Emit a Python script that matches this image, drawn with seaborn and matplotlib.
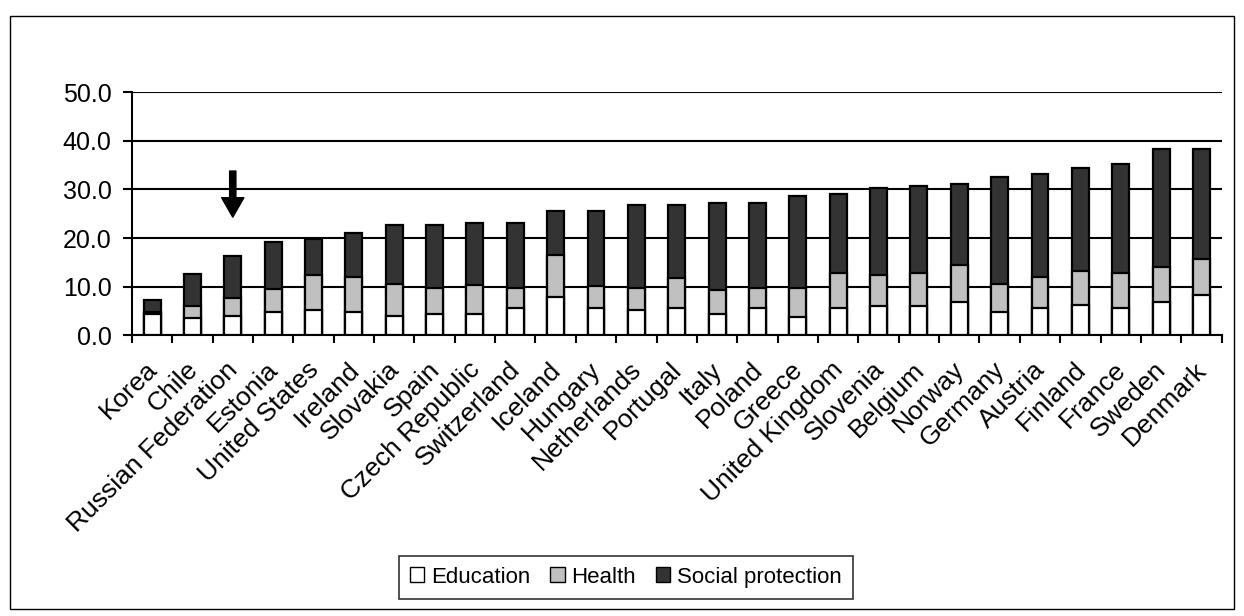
import matplotlib
matplotlib.use("Agg")
import matplotlib.pyplot as plt
import matplotlib.transforms as mtransforms
from matplotlib.patches import Rectangle, Patch
import seaborn as sns
import numpy as np
import pandas as pd

countries = ["Korea", "Chile", "Russian Federation", "Estonia", "United States",
             "Ireland", "Slovakia", "Spain", "Czech Republic", "Switzerland",
             "Iceland", "Hungary", "Netherlands", "Portugal", "Italy", "Poland",
             "Greece", "United Kingdom", "Slovenia", "Belgium", "Norway",
             "Germany", "Austria", "Finland", "France", "Sweden", "Denmark"]
education = [4.3, 3.5, 3.9, 4.8, 5.2, 4.8, 3.9, 4.3, 4.3, 5.6, 7.8, 5.5, 5.1, 5.5,
             4.3, 5.5, 3.8, 5.5, 6.0, 6.0, 6.8, 4.7, 5.5, 6.3, 5.5, 6.8, 8.3]
health = [0.5, 2.5, 3.8, 4.6, 7.2, 7.2, 6.7, 5.5, 6.0, 4.2, 8.7, 4.7, 4.6, 6.3,
          5.0, 4.2, 5.9, 7.3, 6.3, 6.8, 7.7, 5.9, 6.5, 7.0, 7.3, 7.2, 7.4]
social = [2.5, 6.5, 8.6, 9.8, 7.3, 9.0, 12.0, 12.8, 12.8, 13.3, 9.1, 15.4, 17.2, 15.1,
          18.0, 17.6, 18.9, 16.2, 18.0, 17.9, 16.7, 21.9, 21.2, 21.2, 22.5, 24.3, 22.7]

df = pd.DataFrame({"country": countries, "edu": education,
                   "health": health, "social": social})
df["c1"] = df["edu"]
df["c2"] = df["edu"] + df["health"]
df["c3"] = df["c2"] + df["social"]

plt.rcParams["font.family"] = ["Liberation Sans", "DejaVu Sans"]

fig = plt.figure(figsize=(12.44, 6.16), dpi=100)
ax = fig.add_axes([0.106, 0.456, 0.876, 0.394])

cols = [("c3", "#333333", "Social protection"),
        ("c2", "#c0c0c0", "Health"),
        ("c1", "#ffffff", "Education")]
for col, color, lab in cols:
    sns.barplot(data=df, x="country", y=col, color=color, edgecolor="black",
                linewidth=1.6, width=0.42, ax=ax, saturation=1, zorder=3)

ax.set_ylim(0, 50)
ax.set_yticks(np.arange(0, 51, 10))
ax.set_yticklabels([f"{v:.1f}" for v in np.arange(0, 51, 10)], fontsize=18)
ax.set_xlim(-0.5, len(countries) - 0.5)
ax.set_xticks(range(len(countries)))
ax.set_xticklabels(countries, rotation=45, ha="right", va="top",
                   rotation_mode="anchor", fontsize=19)
ax.set_xticks(np.arange(-0.5, len(countries)), minor=True)
ax.tick_params(axis="x", which="major", length=0, pad=16)
ax.tick_params(axis="x", which="minor", length=6, width=1.5, direction="out")
ax.tick_params(axis="y", length=6.5, width=1.5, direction="out", pad=8)
shift = mtransforms.ScaledTranslation(-0.07, 0, fig.dpi_scale_trans)
for lbl in ax.get_xticklabels():
    lbl.set_transform(lbl.get_transform() + shift)
ax.set_xlabel("")
ax.set_ylabel("")
ax.grid(axis="y", color="black", linewidth=1.5, zorder=0)
ax.set_axisbelow(True)
for s in ["top", "right"]:
    ax.spines[s].set_visible(False)
ax.spines["left"].set_linewidth(1.5)
ax.spines["bottom"].set_linewidth(1.5)

ax.annotate("", xy=(2, 24.3), xytext=(2, 33.8),
            arrowprops=dict(facecolor="black", edgecolor="black",
                            width=4.5, headwidth=16, headlength=14))

handles = [Patch(facecolor="#ffffff", edgecolor="black", label="Education"),
           Patch(facecolor="#c0c0c0", edgecolor="black", label="Health"),
           Patch(facecolor="#333333", edgecolor="black", label="Social protection")]
leg = fig.legend(handles=handles, loc="center", bbox_to_anchor=(0.503, 0.063),
                 ncol=3, fontsize=16, frameon=True, fancybox=False,
                 handlelength=0.65, handleheight=0.65, handletextpad=0.3,
                 columnspacing=0.9, borderpad=0.5, borderaxespad=0)
leg.get_frame().set_edgecolor("black")
leg.get_frame().set_linewidth(1.2)

fig.patches.append(Rectangle((0.008, 0.012), 0.984, 0.962, transform=fig.transFigure,
                             fill=False, edgecolor="black", linewidth=1.0))

fig.savefig("out.png", dpi=100)
